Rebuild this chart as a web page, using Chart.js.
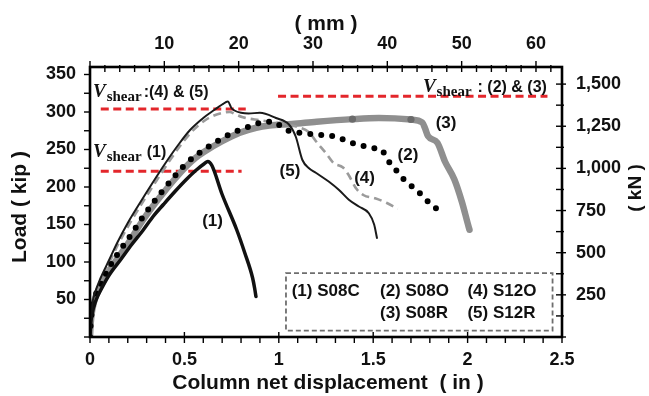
<!DOCTYPE html>
<html><head><meta charset="utf-8">
<script src="https://cdn.jsdelivr.net/npm/chart.js@4.4.1/dist/chart.umd.min.js"></script>
<style>html,body{margin:0;padding:0;background:#fff;overflow:hidden}canvas{display:block}</style>
</head><body>
<canvas id="c" width="649" height="396"></canvas>
<script>
// ---------- data: column net displacement (in) vs load (kip) ----------
// (1) S08C
const s08cX = [0, 0.004, 0.012, 0.03, 0.06, 0.1, 0.165, 0.22, 0.28, 0.335, 0.39, 0.45, 0.51, 0.56, 0.605, 0.624, 0.645, 0.7, 0.777, 0.82, 0.861, 0.872, 0.879];
const s08cY = [0, 18, 32, 48, 64, 82, 104, 123, 142, 161, 177, 194, 210, 222, 231, 234, 229, 190, 143, 112, 79, 65, 54];
// (2) S08O
const s08oX = [0, 0.004, 0.012, 0.03, 0.06, 0.1, 0.155, 0.222, 0.28, 0.335, 0.388, 0.447, 0.508, 0.56, 0.605, 0.7, 0.79, 0.86, 0.93, 0.97, 1.0, 1.04, 1.125, 1.2, 1.3, 1.354, 1.407, 1.46, 1.5, 1.547, 1.573, 1.608, 1.644, 1.688, 1.732, 1.767, 1.811, 1.855];
const s08oY = [0, 20, 38, 56, 72, 92, 114, 138, 160, 179, 196, 214, 231, 242, 250, 265, 276, 282, 287, 287, 283, 276, 272, 270, 267, 262, 257, 254, 252, 249, 237, 227, 215, 204, 196, 186, 176, 167];
// (3) S08R
const s08rX = [0, 0.004, 0.012, 0.03, 0.06, 0.1, 0.155, 0.21, 0.278, 0.335, 0.388, 0.447, 0.508, 0.56, 0.605, 0.7, 0.79, 0.88, 0.95, 1.07, 1.2, 1.39, 1.53, 1.7, 1.76, 1.775, 1.79, 1.84, 1.88, 1.93, 1.97, 2.0, 2.01];
const s08rY = [0, 19, 36, 54, 70, 88, 108, 128, 155, 175, 192, 210, 227, 239, 247, 261, 272, 279, 282, 284, 287, 290.5, 292, 290, 286, 278, 268, 259, 234, 210, 180, 152, 143];
const s08rMarkX = [1.39, 1.7];
const s08rMarkY = [290.5, 290];
// (4) S12O
const s12oX = [0, 0.004, 0.012, 0.028, 0.058, 0.102, 0.15, 0.207, 0.277, 0.338, 0.408, 0.478, 0.54, 0.61, 0.675, 0.74, 0.77, 0.81, 0.9, 1.0, 1.1, 1.16, 1.2, 1.25, 1.29, 1.34, 1.37, 1.41, 1.45, 1.51, 1.57, 1.63];
const s12oY = [0, 22, 42, 58, 76, 99, 124, 150, 179, 203, 230, 255, 274, 289, 297, 300, 297, 293, 289, 285, 280, 273, 260, 245, 232, 226, 216, 198, 189, 185, 179, 171];
// (5) S12R
const s12rX = [0, 0.004, 0.012, 0.025, 0.055, 0.1, 0.145, 0.2, 0.27, 0.33, 0.4, 0.47, 0.53, 0.6, 0.66, 0.7, 0.73, 0.75, 0.765, 0.8, 0.84, 0.9, 0.985, 1.055, 1.09, 1.125, 1.16, 1.196, 1.266, 1.319, 1.371, 1.424, 1.477, 1.505, 1.52];
const s12rY = [0, 24, 44, 58, 78, 102, 126, 152, 181, 205, 232, 257, 276, 292, 303, 310, 314, 305, 302, 299, 298, 299, 292, 283, 267, 236, 225, 219, 207, 196, 183, 174, 165, 150, 132];

// V_shear levels (kip) and their drawn extents (in)
const vshearKip  = [304, 221, 321];          // (4)&(5), (1), (2)&(3)
const vshearFrom = [0.057, 0.057, 0.996];
const vshearTo   = [0.825, 0.803, 2.423];
const vshearText = [':(4) & (5)', '(1)', ': (2) & (3)'];

// tick labels
const xTicksIn  = [0, 0.5, 1, 1.5, 2, 2.5];
const xTicksMM  = [10, 20, 30, 40, 50, 60];
const yTicksKip = [50, 100, 150, 200, 250, 300, 350];
const yTicksKN  = [250, 500, 750, 1000, 1250, 1500];

const curveTags   = ['(1)', '(2)', '(3)', '(4)', '(5)'];
const legendItems = ['(1) S08C', '(2) S08O', '(4) S12O', '(3) S08R', '(5) S12R'];

const KN_PER_KIP = 4.44822, MM_PER_IN = 25.4;
const X_MAX = 2.5, Y_MAX = 360;

// ---------- helpers ----------
const pts = (xs, ys) => xs.map((v, i) => ({x: v, y: ys[i]}));
const SANS = '"Liberation Sans", Arial, sans-serif';
const SERIF = '"Liberation Serif", "DejaVu Serif", serif';
const tickFont = {family: SANS, size: 18, weight: 'bold'};

const curve = (data, extra) => Object.assign({
  data, showLine: true, pointRadius: 0, pointHoverRadius: 0,
  cubicInterpolationMode: 'monotone', borderCapStyle: 'round', borderJoinStyle: 'round',
  fill: false
}, extra);

const datasets = [
  curve(pts(s12rX, s12rY), {borderColor: '#1a1a1a', borderWidth: 2}),
  curve(pts(s08cX, s08cY), {borderColor: '#111', borderWidth: 3.5}),
  curve(pts(s08oX, s08oY), {borderColor: '#000', borderWidth: 6, borderDash: [0, 11]}),
  curve(pts(s12oX, s12oY), {borderColor: '#9b9b9b', borderWidth: 2.6, borderDash: [8, 5], borderCapStyle: 'butt'}),
  {data: pts(s08rMarkX, s08rMarkY), showLine: false, pointRadius: 3.6, pointBackgroundColor: '#6b6b6b', pointBorderWidth: 0},
  curve(pts(s08rX, s08rY), {borderColor: '#8f8f8f', borderWidth: 6.5}),
];
for (let i = 0; i < vshearKip.length; i++) {
  datasets.push({
    data: [{x: vshearFrom[i], y: vshearKip[i]}, {x: vshearTo[i], y: vshearKip[i]}],
    showLine: true, pointRadius: 0, borderColor: '#e3262b', borderWidth: 3, borderDash: [8, 4.5]
  });
}

// ---------- decorations (frame, minor ticks, titles, labels, legend) ----------
const decor = {
  id: 'decor',
  afterDraw(chart) {
    const ctx = chart.ctx, a = chart.chartArea;
    const {x, xTop, y, yR} = chart.scales;
    const X = v => x.getPixelForValue(v), Y = v => y.getPixelForValue(v);
    ctx.save();
    const line = (x1, y1, x2, y2) => { ctx.beginPath(); ctx.moveTo(x1, y1); ctx.lineTo(x2, y2); ctx.stroke(); };

    // frame
    ctx.strokeStyle = '#000'; ctx.lineWidth = 2.6;
    ctx.strokeRect(a.left, a.top, a.right - a.left, a.bottom - a.top);

    // ticks
    ctx.lineWidth = 1.4;
    for (let i = 0; i <= 25; i++) { const px = X(i / 10), maj = i % 5 === 0; line(px, a.bottom - (maj ? 5 : 0), px, a.bottom + 6); }
    for (let m = 0; m <= X_MAX * MM_PER_IN; m += 2) { const px = xTop.getPixelForValue(m), maj = m % 10 === 0; line(px, a.top - (maj ? 6 : 2), px, a.top + 5); }
    for (let k = 0; k <= 350; k += 25) { const py = Y(k); line(a.left - 6, py, a.left, py); }
    for (let n = 0; n <= 1600; n += 125) { const py = yR.getPixelForValue(n), maj = n % 250 === 0; line(a.right - 6, py, a.right + (maj ? 4 : 2), py); }

    // axis titles
    ctx.fillStyle = '#111';
    ctx.textAlign = 'center'; ctx.textBaseline = 'alphabetic';
    ctx.font = 'bold 21px ' + SANS;
    ctx.fillText('( mm )', (a.left + a.right) / 2, 30);
    ctx.fillText('Column net displacement  ( in )', (a.left + a.right) / 2 + 2, 389);
    ctx.textBaseline = 'middle';
    ctx.save(); ctx.translate(20, 207); ctx.rotate(-Math.PI / 2); ctx.fillText('Load ( kip )', 0, 0); ctx.restore();
    ctx.font = 'bold 19px ' + SANS;
    ctx.save(); ctx.translate(636, 188); ctx.rotate(-Math.PI / 2); ctx.fillText('( kN )', 0, 0); ctx.restore();

    // curve tags (positions in data units)
    const tagPos = [[0.649, 154.7], [1.684, 242.7], [1.886, 285.3], [1.454, 212], [1.059, 221.3]];
    ctx.font = 'bold 17px ' + SANS; ctx.textAlign = 'center'; ctx.textBaseline = 'middle';
    curveTags.forEach((t, i) => ctx.fillText(t, X(tagPos[i][0]), Y(tagPos[i][1])));

    // V_shear labels
    const vlab = (left, base, suffix, gap, rightAlign) => {
      ctx.textAlign = 'left'; ctx.textBaseline = 'alphabetic';
      ctx.font = 'bold italic 19px ' + SERIF; const w1 = ctx.measureText('V').width;
      ctx.font = 'bold 15px ' + SERIF; const w2 = ctx.measureText('shear').width;
      ctx.font = 'bold 16px ' + SANS; const w3 = ctx.measureText(suffix).width;
      let l = rightAlign ? left - (w1 + 1 + w2 + gap + w3) : left;
      ctx.font = 'bold italic 19px ' + SERIF; ctx.fillText('V', l, base);
      ctx.font = 'bold 15px ' + SERIF; ctx.fillText('shear', l + w1 + 1, base + 4);
      ctx.font = 'bold 16px ' + SANS; ctx.fillText(suffix, l + w1 + 1 + w2 + gap, base);
    };
    vlab(X(0.016), Y(320), vshearText[0], 2, false);
    vlab(X(0.016), Y(240), vshearText[1], 5, false);
    vlab(X(2.42), Y(327), vshearText[2], 6, true);

    // legend box
    const bx1 = X(1.038), bx2 = X(2.45), by1 = Y(85.3), by2 = Y(8.4);
    ctx.strokeStyle = '#6e6e6e'; ctx.lineWidth = 1.8; ctx.setLineDash([5, 3]);
    ctx.strokeRect(bx1, by1, bx2 - bx1, by2 - by1);
    ctx.setLineDash([]);
    ctx.fillStyle = '#111'; ctx.font = 'bold 17px ' + SANS; ctx.textAlign = 'left'; ctx.textBaseline = 'alphabetic';
    const cols = [X(1.068), X(1.536), X(1.999)];
    const r1 = Y(54.7), r2 = Y(25.3);
    ctx.fillText(legendItems[0], cols[0], r1);
    ctx.fillText(legendItems[1], cols[1], r1);
    ctx.fillText(legendItems[2], cols[2], r1);
    ctx.fillText(legendItems[3], cols[1], r2);
    ctx.fillText(legendItems[4], cols[2], r2);
    ctx.restore();
  }
};

const axisCommon = {
  grid: {display: false, drawTicks: false},
  border: {display: false}
};

new Chart(document.getElementById('c'), {
  type: 'scatter',
  data: {datasets},
  options: {
    responsive: false, animation: false, devicePixelRatio: 1,
    layout: {padding: 0},
    plugins: {legend: {display: false}, tooltip: {enabled: false}},
    elements: {line: {tension: 0}},
    scales: {
      x: Object.assign({}, axisCommon, {
        type: 'linear', position: 'bottom', min: 0, max: X_MAX,
        afterBuildTicks: s => { s.ticks = xTicksIn.map(v => ({value: v})); },
        afterFit: s => { s.height = 59; },
        ticks: {font: tickFont, color: '#111', padding: 12, maxRotation: 0, autoSkip: false, callback: v => String(v)}
      }),
      xTop: Object.assign({}, axisCommon, {
        type: 'linear', position: 'top', min: 0, max: X_MAX * MM_PER_IN,
        afterBuildTicks: s => { s.ticks = xTicksMM.map(v => ({value: v})); },
        afterFit: s => { s.height = 67; },
        ticks: {font: tickFont, color: '#111', padding: 12, maxRotation: 0, autoSkip: false, callback: v => String(v)}
      }),
      y: Object.assign({}, axisCommon, {
        type: 'linear', position: 'left', min: 0, max: Y_MAX,
        afterBuildTicks: s => { s.ticks = yTicksKip.map(v => ({value: v})); },
        afterFit: s => { s.width = 90; },
        ticks: {font: tickFont, color: '#111', padding: 14, autoSkip: false, callback: v => String(v)}
      }),
      yR: Object.assign({}, axisCommon, {
        type: 'linear', position: 'right', min: 0, max: Y_MAX * KN_PER_KIP,
        afterBuildTicks: s => { s.ticks = yTicksKN.map(v => ({value: v})); },
        afterFit: s => { s.width = 87; },
        ticks: {font: tickFont, color: '#111', padding: 14, autoSkip: false, callback: v => v.toLocaleString('en-US')}
      })
    }
  },
  plugins: [decor]
});
</script>
</body></html>
